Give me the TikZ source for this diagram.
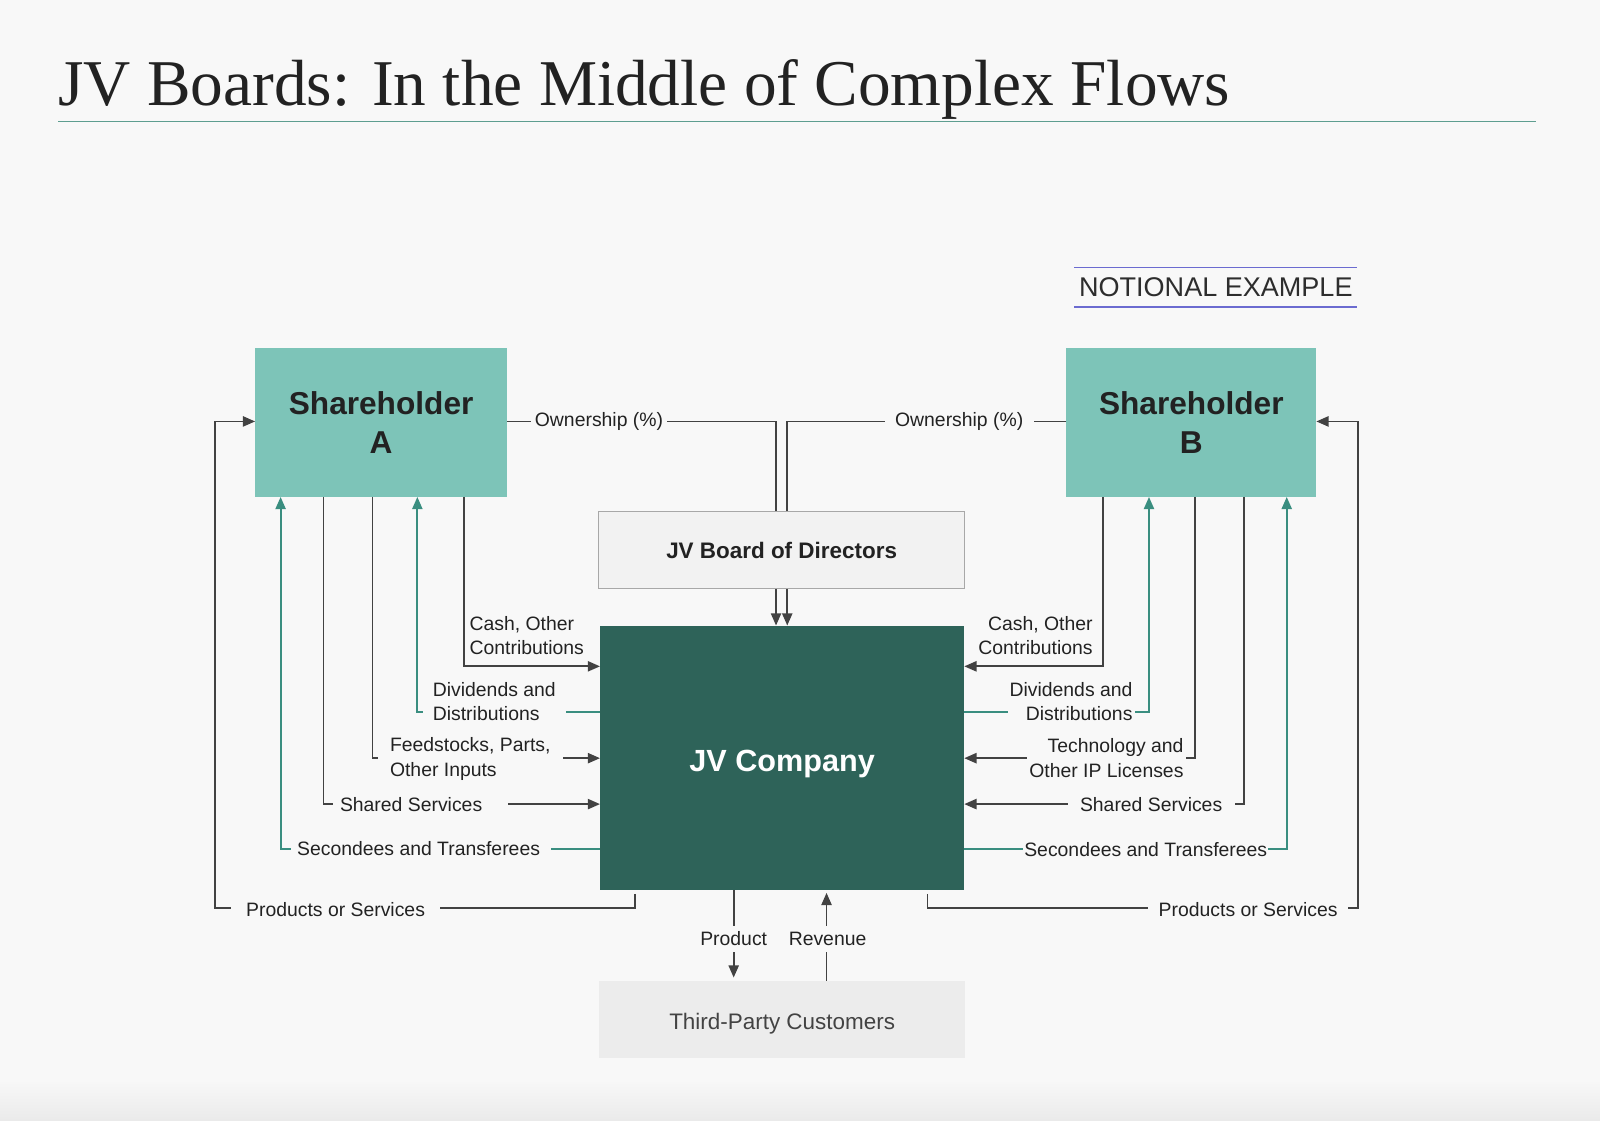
\documentclass[tikz,border=0pt]{standalone}
\usepackage{fontspec}
\setmainfont{Liberation Sans}
\newfontfamily\titlefont{Liberation Serif}
\usetikzlibrary{arrows.meta,positioning,calc}
\definecolor{Paper}{HTML}{F8F8F8}
\definecolor{Shadow}{HTML}{EAEAEA}
\definecolor{Ink}{HTML}{222222}
\definecolor{Wire}{HTML}{424242}
\definecolor{Teal}{HTML}{3A8E80}
\definecolor{Holder}{HTML}{7DC4B8}
\definecolor{Deep}{HTML}{2E6359}
\definecolor{Rule}{HTML}{5E9E90}
\definecolor{Pale}{HTML}{F2F2F2}
\definecolor{Edge}{HTML}{A8A8A8}
\definecolor{Violet}{HTML}{6B6BD0}

\begin{document}
\begin{tikzpicture}[x=1pt,y=-1pt,
    >={Triangle[length=12pt,width=10pt]},
    holder/.style={fill=Holder,minimum height=146pt,inner sep=0pt,outer sep=0pt,
      align=center,text=Ink,font=\fontsize{31}{38}\selectfont\bfseries},
    wire/.style={draw=Wire,line width=1.8pt},
    tealwire/.style={draw=Teal,line width=1.8pt,-{Triangle[length=12pt,width=10pt]}},
    lbl/.style={fill=Paper,inner ysep=1pt,text=Ink,font=\fontsize{19}{24}\selectfont},
    lblplain/.style={inner sep=0pt,text=Ink,font=\fontsize{19}{24}\selectfont}
  ]
    \useasboundingbox (0,0) rectangle (1568,1098);
    \fill[Paper] (0,0) rectangle (1568,1098);
    \shade[top color=Paper,bottom color=Shadow] (0,1058) rectangle (1568,1098);

    % title and note
    \node[anchor=base west,inner sep=0pt,text=Ink,
      font=\titlefont\fontsize{64}{70}\selectfont] (title) at (57,103)
      {JV Boards: In the Middle of Complex Flows};
    \draw[Rule,line width=1.5pt] (57,119) -- (1505,119);
    \node[minimum width=277pt,minimum height=38pt,inner sep=0pt,text=Ink!95,
      font=\fontsize{26.5}{30}\selectfont] (note) at (1191.5,281.7) {NOTIONAL EXAMPLE};
    \draw[Violet,line width=1.2pt] (note.north west) -- (note.north east)
      (note.south west) -- (note.south east);

    % boxes
    \node[holder,minimum width=247pt] (shA) at (373.5,414) {Shareholder\\A};
    \node[holder,minimum width=245pt] (shB) at (1167.5,414) {Shareholder\\B};
    \node[fill=Pale,draw=Edge,line width=1pt,minimum width=358pt,minimum height=76pt,
      inner sep=0pt,outer sep=0pt,text=Ink,font=\fontsize{22}{26}\selectfont\bfseries]
      (board) at (766,539) {JV Board of Directors};
    \node[fill=Deep,minimum width=357pt,minimum height=259pt,inner sep=0pt,outer sep=0pt,
      text=white,text height=26.5pt,text depth=0pt,
      font=\fontsize{30}{36}\selectfont\bfseries] (jvc) at (766.5,742.5) {JV Company};
    \node[fill=Pale!95!gray,minimum width=359pt,minimum height=76pt,inner sep=0pt,
      outer sep=0pt,text=Ink!85,text height=19pt,text depth=0pt,
      font=\fontsize{22}{26}\selectfont,below=89pt of jvc] (tpc) {Third-Party Customers};

    % ownership and governance
    \draw[wire] (shA.east |- 0,413) -| ([xshift=-5.5pt]board.north);
    \draw[wire] (shB.west |- 0,413) -| ([xshift=5.5pt]board.north);
    \draw[wire,->] ([xshift=-5.5pt]board.south) -- ([xshift=-5.5pt]board.south |- jvc.north);
    \draw[wire,->] ([xshift=5.5pt]board.south) -- ([xshift=5.5pt]board.south |- jvc.north);

    % shareholder A flows
    \draw[wire,->] (shA.south -| 455,0) |- (jvc.west |- 0,653);
    \draw[tealwire] (jvc.west |- 0,698) -| (shA.south -| 409,0);
    \draw[wire,->] (shA.south -| 365,0) |- (jvc.west |- 0,743);
    \draw[wire,->] (shA.south -| 317,0) |- (jvc.west |- 0,788);
    \draw[tealwire] (jvc.west |- 0,832) -| (shA.south -| 275,0);
    \draw[wire,->,shorten <=4pt] (jvc.south -| 622,0) |- (211,890) |- (shA.west |- 0,413);

    % shareholder B flows
    \draw[wire,->] (shB.south -| 1081,0) |- (jvc.east |- 0,653);
    \draw[tealwire] (jvc.east |- 0,698) -| (shB.south -| 1126,0);
    \draw[wire,->] (shB.south -| 1171,0) |- (jvc.east |- 0,743);
    \draw[wire,->] (shB.south -| 1219,0) |- (jvc.east |- 0,788);
    \draw[tealwire] (jvc.east |- 0,832) -| (shB.south -| 1261,0);
    \draw[wire,->,shorten <=4pt] (jvc.south -| 909,0) |- (1331,890) |- (shB.east |- 0,413);

    % customers
    \draw[wire,->,shorten >=3pt] (jvc.south -| 719,0) -- (tpc.north -| 719,0);
    \draw[wire,->,shorten >=3pt] (tpc.north -| 810,0) -- (jvc.south -| 810,0);

    % labels
    \node[lbl,anchor=west,inner xsep=4pt] (ownA) at (520,413) {Ownership (\%)};
    \node[lbl,anchor=west,inner xsep=10pt] (ownB) at (867,413) {Ownership (\%)};
    \node[lblplain,anchor=west,align=left] (cashA) at (460,623) {Cash, Other\\Contributions};
    \node[lbl,anchor=west,align=left,inner xsep=10pt] (divA) at (414,687.5) {Dividends and\\Distributions};
    \node[lbl,anchor=west,align=left,inner xsep=12pt] (feedA) at (370,744) {Feedstocks, Parts,\\Other Inputs};
    \node[lbl,anchor=west,inner xsep=7pt] (sharedA) at (326,788) {Shared Services\hspace*{18pt}};
    \node[lbl,anchor=west,inner xsep=6pt] (secA) at (285,832) {Secondees and Transferees\hspace*{5pt}};
    \node[lbl,anchor=west,inner xsep=15pt] (prodA) at (226,891) {Products or Services};
    \node[lblplain,anchor=east,align=right] (cashB) at (1071,623) {Cash, Other\\Contributions};
    \node[lbl,anchor=east,align=right,inner xsep=2pt] (divB) at (1112,687.5) {Dividends and\\Distributions};
    \node[lbl,anchor=east,align=right,inner xsep=2pt] (techB) at (1162,743) {Technology and\\Other IP Licenses};
    \node[lbl,anchor=east,inner xsep=12pt] (sharedB) at (1210,788) {Shared Services};
    \node[lbl,anchor=east,inner xsep=1pt] (secB) at (1243,833) {Secondees and Transferees};
    \node[lbl,anchor=east,inner xsep=10pt] (prodB) at (1321,891) {Products or Services};
    \node[lbl,inner xsep=2pt,inner ysep=6pt] (product) at (719,920) {Product};
    \node[lbl,inner xsep=2pt,inner ysep=6pt] (revenue) at (811,920) {Revenue};
  \end{tikzpicture}
\end{document}
